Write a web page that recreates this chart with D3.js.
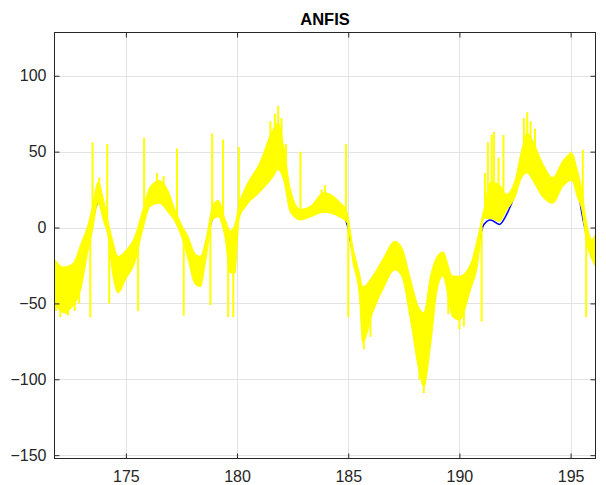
<!DOCTYPE html>
<html>
<head>
<meta charset="utf-8">
<script src="https://cdn.jsdelivr.net/npm/d3@7"></script>
<style>
  body { margin: 0; background: #fff; }
  text { font-family: "Liberation Sans", Arial, sans-serif; fill: #262626; }
</style>
</head>
<body>
<div id="chart"></div>
<script>
// time axis samples
var tSamples = [171.8, 172.2, 172.6, 173.0, 173.3, 173.5, 173.75, 174.0, 174.2, 174.4,
  174.65, 175.0, 175.4, 175.75, 176.1, 176.5, 176.9, 177.2, 177.5, 177.8,
  178.1, 178.35, 178.6, 178.9, 179.15, 179.45, 179.7, 179.9, 180.1, 180.4,
  181.0, 181.6, 181.85, 182.1, 182.4, 182.85, 183.3, 183.9, 184.6, 184.95,
  185.2, 185.5, 185.65, 186.1, 186.55, 187.1, 187.4, 187.8, 188.15, 188.4,
  188.7, 189.0, 189.25, 189.7, 190.0, 190.5, 190.8, 191.1, 191.4, 191.8,
  192.1, 192.5, 192.8, 193.05, 193.3, 193.75, 194.2, 194.65, 195.05, 195.3,
  195.5, 195.7, 195.95, 196.1];

// target signal (blue)
var target = [-30, -38, -36, -25, -8, 5, 16, 12, 0, -15,
  -30, -26, -14, 2, 18, 22, 16, 6, -2, -12,
  -22, -24, -10, 6, 10, 2, -4, -1, 8, 18,
  30, 42, 45, 35, 18, 8, 10, 15, 12, 2,
  -17, -35, -45, -42, -30, -17, -20, -45, -68, -78,
  -55, -30, -24, -43, -45, -30, -15, 2, 5, 2,
  8, 22, 38, 45, 40, 28, 22, 32, 38, 28,
  10, -4, -15, -18];

// ANFIS output (yellow), noise band lower / upper edge
var anfisLow = [-50, -56, -52, -39, -15, -2, 16, 4, -6, -30,
  -43, -34, -23, -2, 14, 16, 10, 4, -6, -21,
  -37, -39, -21, 5, 7, -6, -30, -30, 6, 14,
  23, 33, 38, 31, 10, 5, 7, 10, 7, 3,
  -22, -45, -76, -56, -41, -28, -32, -61, -92, -105,
  -78, -41, -32, -59, -61, -41, -26, 6, 6, 4,
  11, 20, 33, 36, 31, 20, 16, 27, 31, 20,
  12, -8, -21, -25];
var anfisHigh = [-21, -26, -24, -10, 2, 14, 30, 18, 4, -8,
  -19, -15, -6, 11, 27, 31, 24, 12, 2, -6,
  -17, -19, -8, 14, 18, 6, -2, 2, 16, 27,
  42, 64, 69, 53, 25, 12, 14, 23, 17, 10,
  -12, -30, -39, -32, -21, -9, -13, -34, -52, -56,
  -32, -19, -16, -32, -32, -24, -8, 12, 30, 28,
  22, 31, 51, 62, 57, 42, 33, 44, 49, 38,
  25, 5, -8, -5];

// isolated spikes in the ANFIS output
var spikeT = [171.85, 172.05, 172.3, 172.4, 172.7, 172.9, 173.4, 173.5, 173.8, 174.16,
  174.25, 175.55, 175.82, 176.4, 176.7, 177.3, 177.6, 178.8, 178.88, 179.37,
  179.6, 179.83, 180.08, 181.5, 181.7, 181.85, 182.0, 182.2, 182.85, 183.8,
  183.95, 184.9, 185.0, 185.7, 186.0, 188.2, 188.4, 188.5, 189.5, 190.0,
  190.2, 191.0, 191.15, 191.28, 191.45, 191.55, 191.76, 191.98, 192.9, 193.05,
  193.2, 193.4, 195.0, 195.55, 195.7];
var spikeValue = [-55, -59, -57, -58, -55, -50, -59, 56, 33, 55,
  -50, -55, 59, 36, 34, 52, -58, -51, 62, 58,
  -59, -59, 53, 70, 75, 80, 72, 55, 50, 25,
  28, 55, -59, -80, -72, -100, -109, -98, -57, -67,
  -65, -62, 36, 56, 61, 63, 46, 61, 72, 76,
  70, 65, 50, 51, -59];

var xTicks = [175, 180, 185, 190, 195];
var yTicks = [-150, -100, -50, 0, 50, 100];

var width = 606, height = 485;
var margin = { top: 32.5, right: 10.5, bottom: 26.5, left: 54.5 };

var svg = d3.select("#chart").append("svg")
  .attr("width", width)
  .attr("height", height);

var x = d3.scaleLinear().domain([171.79, 196.12]).range([margin.left, width - margin.right]);
var y = d3.scaleLinear().domain([-152.2, 128.5]).range([height - margin.bottom, margin.top]);

// grid
var grid = svg.append("g");
grid.selectAll(".gx").data(xTicks).enter().append("line")
  .attr("x1", function (d) { return Math.round(x(d)) + 0.5; })
  .attr("x2", function (d) { return Math.round(x(d)) + 0.5; })
  .attr("y1", y.range()[0]).attr("y2", y.range()[1])
  .attr("stroke", "#e3e3e3");
grid.selectAll(".gy").data(yTicks).enter().append("line")
  .attr("y1", function (d) { return Math.round(y(d)) + 0.5; })
  .attr("y2", function (d) { return Math.round(y(d)) + 0.5; })
  .attr("x1", x.range()[0]).attr("x2", x.range()[1])
  .attr("stroke", "#e3e3e3");

// data
svg.append("defs").append("clipPath").attr("id", "plotClip")
  .append("rect")
  .attr("x", margin.left).attr("y", margin.top)
  .attr("width", width - margin.left - margin.right)
  .attr("height", height - margin.top - margin.bottom);

var plot = svg.append("g").attr("clip-path", "url(#plotClip)");

var idx = d3.range(tSamples.length);

plot.append("path")
  .datum(idx)
  .attr("fill", "none")
  .attr("stroke", "#0000ff")
  .attr("stroke-width", 1.5)
  .attr("d", d3.line()
    .x(function (i) { return x(tSamples[i]); })
    .y(function (i) { return y(target[i]); })
    .curve(d3.curveMonotoneX));

plot.append("path")
  .datum(idx)
  .attr("fill", "#ffff00")
  .attr("stroke", "#ffff00")
  .attr("stroke-width", 1)
  .attr("d", d3.area()
    .x(function (i) { return x(tSamples[i]); })
    .y0(function (i) { return y(anfisLow[i]); })
    .y1(function (i) { return y(anfisHigh[i]); })
    .curve(d3.curveMonotoneX));

// spikes start from the middle of the band
var bisect = d3.bisector(function (d) { return d; }).left;
function bandMid(t) {
  var j = Math.max(1, Math.min(tSamples.length - 1, bisect(tSamples, t)));
  var f = (t - tSamples[j - 1]) / (tSamples[j] - tSamples[j - 1]);
  var lo = anfisLow[j - 1] + f * (anfisLow[j] - anfisLow[j - 1]);
  var hi = anfisHigh[j - 1] + f * (anfisHigh[j] - anfisHigh[j - 1]);
  return (lo + hi) / 2;
}

plot.selectAll(".spike").data(d3.range(spikeT.length)).enter().append("line")
  .attr("x1", function (i) { return x(spikeT[i]); })
  .attr("x2", function (i) { return x(spikeT[i]); })
  .attr("y1", function (i) { return y(bandMid(spikeT[i])); })
  .attr("y2", function (i) { return y(spikeValue[i]); })
  .attr("stroke", "#ffff00")
  .attr("stroke-width", 2);

// axes (box, ticks inside)
var axisColor = "#262626";
var x0 = x.range()[0], x1 = x.range()[1], y0 = y.range()[0], y1 = y.range()[1];

svg.append("rect")
  .attr("x", x0).attr("y", y1)
  .attr("width", x1 - x0).attr("height", y0 - y1)
  .attr("fill", "none").attr("stroke", axisColor).attr("stroke-width", 1);

var xBottom = d3.axisBottom(x).tickValues(xTicks).tickSize(-5).tickPadding(12);
var gxb = svg.append("g").attr("transform", "translate(0," + y0 + ")").call(xBottom);
var xTop = d3.axisTop(x).tickValues(xTicks).tickSize(-5).tickFormat("");
var gxt = svg.append("g").attr("transform", "translate(0," + y1 + ")").call(xTop);
var yLeft = d3.axisLeft(y).tickValues(yTicks).tickSize(-5).tickPadding(8);
var gyl = svg.append("g").attr("transform", "translate(" + x0 + ",0)").call(yLeft);
var yRight = d3.axisRight(y).tickValues(yTicks).tickSize(-5).tickFormat("");
var gyr = svg.append("g").attr("transform", "translate(" + x1 + ",0)").call(yRight);

[gxb, gxt, gyl, gyr].forEach(function (g) {
  g.select(".domain").remove();
  g.selectAll(".tick line").attr("stroke", axisColor);
  g.selectAll("text")
    .style("font-family", "'Liberation Sans', Arial, sans-serif")
    .style("font-size", "16px")
    .attr("fill", axisColor);
});

// title
svg.append("text")
  .attr("x", (x0 + x1) / 2)
  .attr("y", 25)
  .attr("text-anchor", "middle")
  .style("font-size", "16.5px")
  .style("font-weight", "bold")
  .style("fill", "#000")
  .text("ANFIS");
</script>
</body>
</html>
